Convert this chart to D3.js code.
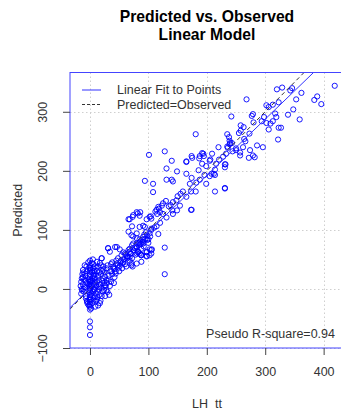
<!DOCTYPE html>
<html>
<head>
<meta charset="utf-8">
<script src="https://cdn.jsdelivr.net/npm/d3@7"></script>
<style>
  body { margin: 0; background: #fff; }
  text { font-family: "Liberation Sans", Arial, sans-serif; }
</style>
</head>
<body>
<div class="chart"></div>
<script>
// observed (LH tt) and predicted values
const observed = [
  // cluster near zero
  0, 0, 0, 0, 0, 0, 0, 0, 0, 0, 0, 0, 0, 0, 0, 0, 0, 0, 0, 0, 0, 0, 0, 0,
  -5, -8, -10, -12, -14, -10, -7, -5, -12, -15, -3, -6, -9, -4, -2, -13, -6, -11,
  3, 5, 4, 6, 8, 2, 7, 9, 5, 3, 8, 6, 4, 9, 2, 10, 7, 5, 3, 8, 10, 6, 4, 9,
  12, 14, 15, 18, 20, 13, 16, 12, 18, 20, 22, 24, 25, 14, 17, 20, 11, 22, 15, 19, 23, 12,
  27, 30, 33, 28, 32, 35, 38, 40, 30, 36, 42, 44, 28, 34, 31, 43, 38, 45, 41, 26,
  -16, -14, -12, -9, -7, -15, -11, -8, -3, -1, 1, 2, 4, 6, 11, 13, 16, 19, 21, 24,
  26, 29, 17, 14, 10, 7, 3, -2, -5, 1, 5, 12, 16, 21, 8, -8, -13, 25, 32, 36,
  // band 45-130
  47, 50, 52, 55, 58, 60, 62, 65, 68, 70, 72, 75, 78, 80, 82, 85, 88, 90, 92, 95, 98, 100,
  71, 80, 88, 63, 31, 34, 46, 51, 54, 60, 63, 68, 77, 80, 83, 88, 97, 102, 105, 97,
  20, 23, 28, 40, 46, 51, 57, 74, 82, 86, 68, 66, 102, 105, 115, 118,
  71, 66, 80, 85, 94, 91, 88, 98, 102, 105, 105, 102, 97, 88, 85,
  104, 97, 85, 80, 73, 72, 91, 105, 114, 120, 117, 103, 91, 85, 80, 74, 74, 91, 100,
  106, 97, 87, 128, 128, 71, 73, 68, 68, 80, 80,
  42, 48, 53, 57, 61, 66, 72, 76, 84, 93, 96, 110, 37, 44, 49, 56, 64, 69, 79, 86,
  // band 100-230
  101, 128, 140, 131, 94, 108, 108, 131, 140, 142, 149, 165, 174, 165, 188, 194, 209,
  192, 205, 186, 174, 171, 182, 188, 196, 205, 208, 214, 220, 235, 239, 243, 250,
  232, 231, 214, 199, 214, 231, 181, 173, 159, 155, 150, 148, 142, 138, 135, 130,
  125, 123, 117, 114, 112, 120, 125, 131, 141, 142, 149, 154, 165, 173, 174,
  165, 175, 187, 192, 195, 181, 199, 206, 212, 216, 221,
  // upper right
  419, 268, 242, 320, 329, 343, 346, 362, 353, 384, 389, 396, 339, 348, 359, 322,
  323, 327, 313, 302, 306, 313, 323, 317, 319, 298, 294, 302, 306, 309, 296, 279,
  277, 280, 258, 263, 258, 255, 235, 238, 239, 240, 236, 233, 244, 250, 257, 262,
  264, 266, 273, 274, 279, 282, 286, 272, 257, 231, 231, 228
];
const predicted = [
  48, 40, 35, 30, 25, 20, 15, 12, 8, 5, 2, 0, -3, -6, -10, -14, -18, -22, -26, -30, -35, -55, -65, -78,
  30, 22, 15, 8, 0, -5, -12, -20, 20, 12, 45, 38, 3, -25, -28, -3, 10, 28,
  44, 35, 28, 22, 18, 14, 8, 2, -4, -8, -14, -20, -24, -30, -33, 25, 30, 10, 5, -2, -8, 0, 18, 12,
  30, 22, 15, 8, 2, -5, -10, -18, -20, -12, 18, 10, 28, 38, 44, 52, 5, -4, 0, 25, 33, 12,
  5, -5, -10, 15, 22, 30, 25, 35, 40, 12, 20, 30, -2, 5, 69, 71, 45, 48, 10, -12,
  5, 18, 32, 40, -16, -8, 0, 26, 16, 36, -18, 6, 14, 42, 36, -14, 28, 40, 14, -2,
  20, 10, -24, -28, -20, 24, -12, 6, -22, 32, 50, 46, 4, 30, 38, 14, 25, 6, 16, 42,
  40, 30, 45, 35, 50, 42, 38, 55, 48, 60, 52, 65, 58, 70, 62, 75, 68, 80, 72, 85, 90, 78,
  40, 43, 46, 55, 69, 63, 71, 67, 57, 60, 55, 63, 69, 77, 63, 57, 63, 67, 60, 55,
  52, 38, 35, 38, 43, 39, 46, 125, 128, 130, 118, 118, 122, 119, 127, 136,
  91, 97, 94, 105, 105, 83, 77, 83, 94, 102, 66, 57, 56, 57, 60,
  123, 118, 124, 130, 122, 106, 107, 100, 106, 112, 93, 89, 88, 84, 86, 89, 77, 77, 84,
  67, 62, 58, 70, 25, 43, 38, 68, 54, 71, 60,
  34, 52, 48, 62, 58, 66, 74, 70, 78, 92, 96, 104, 30, 26, 36, 44, 52, 60, 72, 80,
  227, 233, 217, 204, 183, 178, 164, 185, 185, 182, 199, 195, 225, 216, 225, 229, 229,
  212, 217, 201, 188, 178, 180, 185, 193, 191, 195, 202, 240, 241, 245, 247, 238,
  211, 206, 193, 178, 165, 171, 165, 165, 165, 161, 157, 150, 147, 142, 140, 149,
  145, 141, 139, 134, 131, 130, 127, 121, 133, 127, 133, 141, 156, 134, 134,
  215, 222, 221, 230, 225, 262, 208, 219, 195, 212, 219,
  344, 321, 292, 338, 341, 336, 340, 332, 321, 320, 326, 313, 295, 304, 287, 253,
  273, 273, 284, 311, 308, 312, 316, 297, 291, 291, 284, 281, 270, 280, 240, 296,
  293, 282, 277, 274, 268, 264, 262, 257, 251, 247, 239, 229, 233, 235, 231, 240,
  254, 250, 263, 235, 226, 223, 243, 222, 226, 211, 170, 224
];
const points = observed.map((d, i) => ({obs: d, pred: predicted[i]}));

const xTicks = [0, 100, 200, 300, 400];
const yTicks = [-100, 0, 100, 200, 300];
const fit = {intercept: 1, slope: 0.955};
const legendItems = [
  {label: "Linear Fit to Points", color: "#3333ff", dash: null},
  {label: "Predicted=Observed", color: "#333", dash: "3,2"}
];
const rsqLabel = "Pseudo R-square=0.94";

const width = 341, height = 413;
const plot = {left: 70, right: 342.5, top: 72.5, bottom: 348};
const xDomain = [-34.2, 432.3];
const yDomain = [-100, 366.5];

const svg = d3.select(".chart").append("svg")
  .attr("width", width)
  .attr("height", height);

const x = d3.scaleLinear().domain(xDomain).range([plot.left, plot.right]);
const y = d3.scaleLinear().domain(yDomain).range([plot.bottom, plot.top]);

svg.append("defs").append("clipPath").attr("id", "clip")
  .append("rect")
  .attr("x", plot.left).attr("y", plot.top)
  .attr("width", plot.right - plot.left).attr("height", plot.bottom - plot.top);

// grid
const grid = svg.append("g")
  .attr("stroke", "#cfcfcf")
  .attr("stroke-dasharray", "1.5,2.5")
  .attr("stroke-width", 1);
grid.selectAll(".gx").data(xTicks).join("line")
  .attr("x1", d => Math.round(x(d)) + 0.5).attr("x2", d => Math.round(x(d)) + 0.5)
  .attr("y1", plot.top).attr("y2", plot.bottom);
grid.selectAll(".gy").data(yTicks).join("line")
  .attr("y1", d => Math.round(y(d)) + 0.5).attr("y2", d => Math.round(y(d)) + 0.5)
  .attr("x1", plot.left).attr("x2", plot.right);

// points
svg.append("g")
  .attr("clip-path", "url(#clip)")
  .selectAll("circle")
  .data(points)
  .join("circle")
  .attr("cx", d => x(d.obs))
  .attr("cy", d => y(d.pred))
  .attr("r", 2.6)
  .attr("fill", "none")
  .attr("stroke", "#0000ff")
  .attr("stroke-width", 0.9);

// reference lines
const lines = svg.append("g").attr("clip-path", "url(#clip)");
lines.append("line")
  .attr("x1", x(xDomain[0])).attr("y1", y(xDomain[0]))
  .attr("x2", x(xDomain[1])).attr("y2", y(xDomain[1]))
  .attr("stroke", "#333").attr("stroke-dasharray", "4,3");
lines.append("line")
  .attr("x1", x(xDomain[0])).attr("y1", y(fit.intercept + fit.slope * xDomain[0]))
  .attr("x2", x(xDomain[1])).attr("y2", y(fit.intercept + fit.slope * xDomain[1]))
  .attr("stroke", "#3333ff");

// frame
svg.append("rect")
  .attr("x", plot.left).attr("y", plot.top)
  .attr("width", plot.right - plot.left).attr("height", plot.bottom - plot.top)
  .attr("fill", "none")
  .attr("stroke", "#4444ff");

// axes
svg.append("g")
  .attr("transform", `translate(0,${plot.bottom})`)
  .call(d3.axisBottom(x).tickValues(xTicks).tickSize(7).tickFormat(d3.format("d")))
  .call(g => g.select(".domain").remove())
  .call(g => g.selectAll(".tick line").attr("stroke", "#444"))
  .call(g => g.selectAll(".tick text")
    .attr("y", 28).attr("dy", 0)
    .attr("fill", "#333")
    .style("font-size", "12.5px"));

svg.append("g")
  .attr("transform", `translate(${plot.left},0)`)
  .call(d3.axisLeft(y).tickValues(yTicks).tickSize(7).tickFormat(d3.format("d")))
  .call(g => g.select(".domain").remove())
  .call(g => g.selectAll(".tick line").attr("stroke", "#444"))
  .call(g => g.selectAll(".tick text")
    .attr("x", 0).attr("dy", 0)
    .attr("transform", "translate(-23.5,0) rotate(-90)")
    .attr("text-anchor", "middle")
    .attr("fill", "#333")
    .style("font-size", "12.5px"));

// titles
svg.append("text")
  .attr("x", 207).attr("y", 22)
  .attr("text-anchor", "middle")
  .style("font-size", "15.7px").style("font-weight", "bold")
  .text("Predicted vs. Observed");
svg.append("text")
  .attr("x", 207).attr("y", 40)
  .attr("text-anchor", "middle")
  .style("font-size", "15.7px").style("font-weight", "bold")
  .text("Linear Model");

svg.append("text")
  .attr("x", 207).attr("y", 408)
  .attr("text-anchor", "middle")
  .attr("fill", "#333")
  .style("font-size", "12.5px").style("white-space", "pre")
  .text("LH  tt");

svg.append("text")
  .attr("transform", `translate(22,${(plot.top + plot.bottom) / 2}) rotate(-90)`)
  .attr("text-anchor", "middle")
  .attr("fill", "#333")
  .style("font-size", "12.5px")
  .text("Predicted");

// legend
const legend = svg.append("g")
  .selectAll("g")
  .data(legendItems)
  .join("g")
  .attr("transform", (d, i) => `translate(82,${90 + i * 14.5})`);
legend.append("line")
  .attr("x1", 0).attr("x2", 19)
  .attr("stroke", d => d.color)
  .attr("stroke-dasharray", d => d.dash);
legend.append("text")
  .attr("x", 35).attr("dy", "0.35em")
  .attr("fill", "#333")
  .style("font-size", "12.5px")
  .text(d => d.label);

svg.append("text")
  .attr("x", 335).attr("y", 337.5)
  .attr("text-anchor", "end")
  .attr("fill", "#333")
  .style("font-size", "12.5px")
  .text(rsqLabel);
</script>
</body>
</html>
